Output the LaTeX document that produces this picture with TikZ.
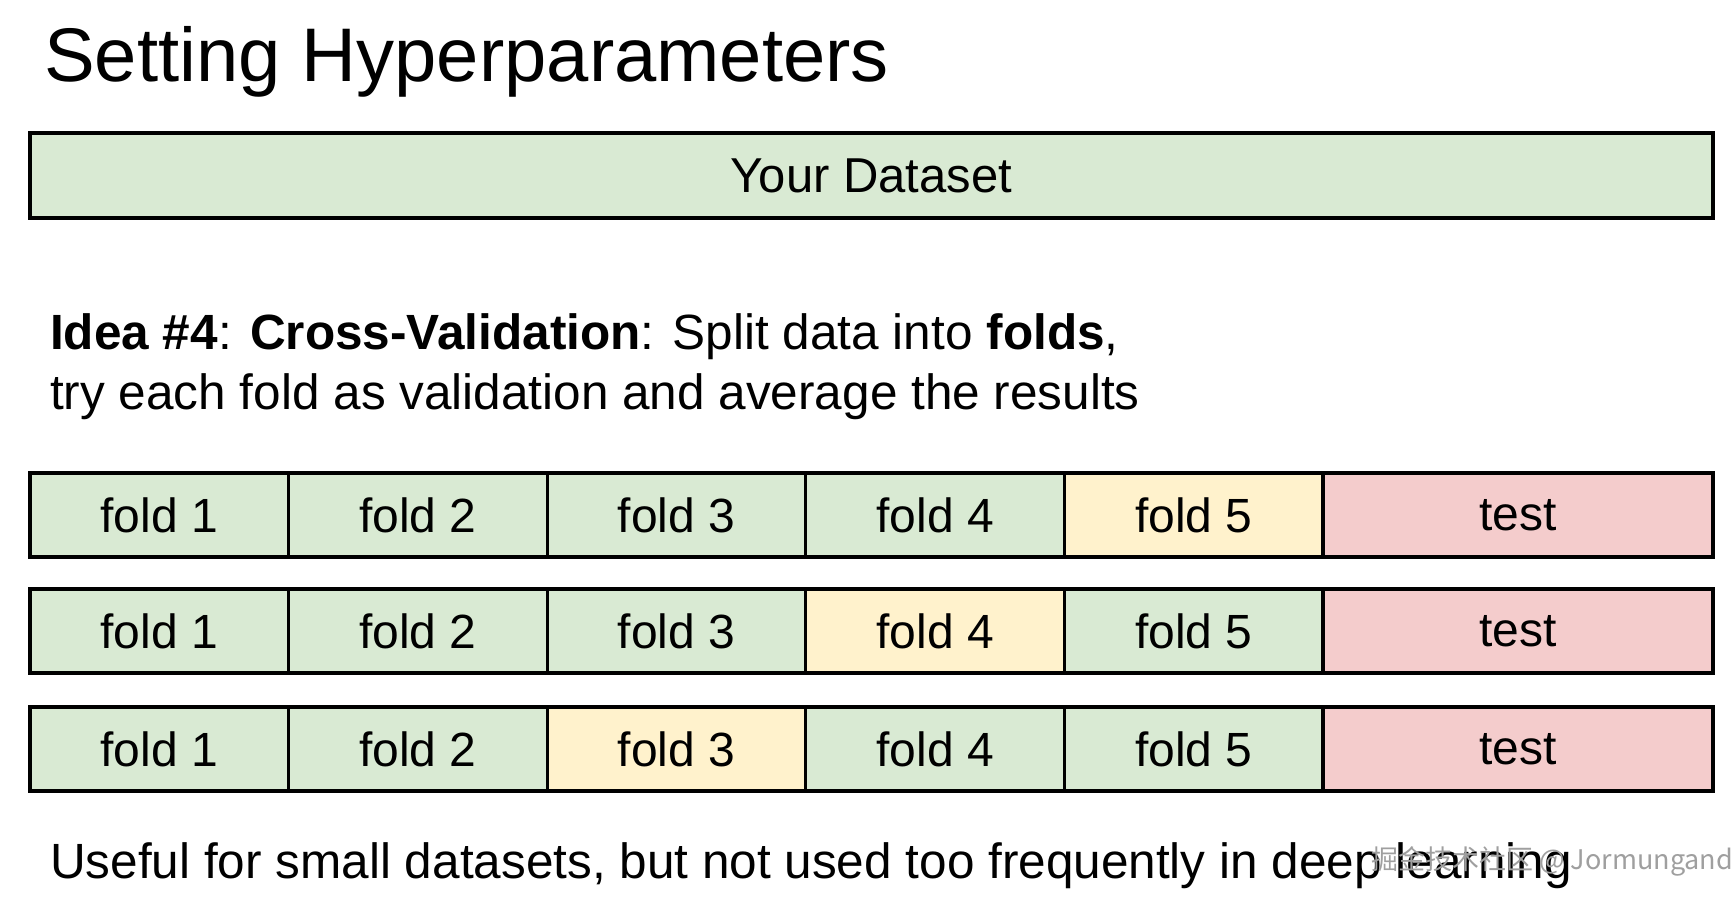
\documentclass[tikz,border=0pt]{standalone}
\usepackage{fontspec}
\setmainfont{Liberation Sans}
\newfontfamily\cjkfont{Noto Sans CJK SC}

\definecolor{trainclr}{HTML}{D9EAD3}
\definecolor{valclr}{HTML}{FFF2CC}
\definecolor{testclr}{HTML}{F4CCCC}

\tikzset{
  cell/.style={draw=black, line width=3.2pt, minimum height=84pt, inner sep=0pt,
    outer sep=0pt, anchor=west, font=\fontsize{48}{58}\selectfont},
  foldcell/.style={cell, minimum width=258.6pt, fill=trainclr},
  testcell/.style={cell, minimum width=390pt, fill=testclr},
  txt/.style={anchor=base west, inner sep=0pt, font=\fontsize{49.5}{59}\selectfont},
}

\begin{document}
\begin{tikzpicture}[x=1pt, y=-1pt]
  \useasboundingbox (0,0) rectangle (1734,906);

  \node[anchor=base west, inner sep=0pt, font=\fontsize{76}{90}\selectfont] (title) at (44,81) {Setting Hyperparameters};

  \node[cell, fill=trainclr, minimum width=1683pt, minimum height=85pt, font=\fontsize{49}{59}\selectfont] (dataset) at (30,175.5) {Your Dataset};

  \node[txt] (idea1) at (50,349) {\textbf{Idea \#4}: \textbf{Cross-Validation}: Split data into \textbf{folds},};
  \node[txt] (idea2) at (50,409) {try each fold as validation and average the results};

  % one row per validation fold
  \foreach \r/\v/\y in {1/5/515, 2/4/631, 3/3/749} {
    \foreach \f in {1,...,5} {
      \def\clr{trainclr}
      \ifnum\f=\v \def\clr{valclr}\fi
      \node[foldcell, fill=\clr] (r\r f\f) at ({30+(\f-1)*258.6},\y) {fold \f};
    }
    \node[testcell] (r\r test) at (1323,\y) {test};
  }

  \node[txt] (note) at (50,878) {Useful for small datasets, but not used too frequently in deep learning};
  \node[anchor=base west, inner sep=0pt, text=gray!75, font=\cjkfont\fontsize{27}{32}\selectfont] (mark) at (1371,869) {掘金技术社区 @ Jormungand};
\end{tikzpicture}
\end{document}
